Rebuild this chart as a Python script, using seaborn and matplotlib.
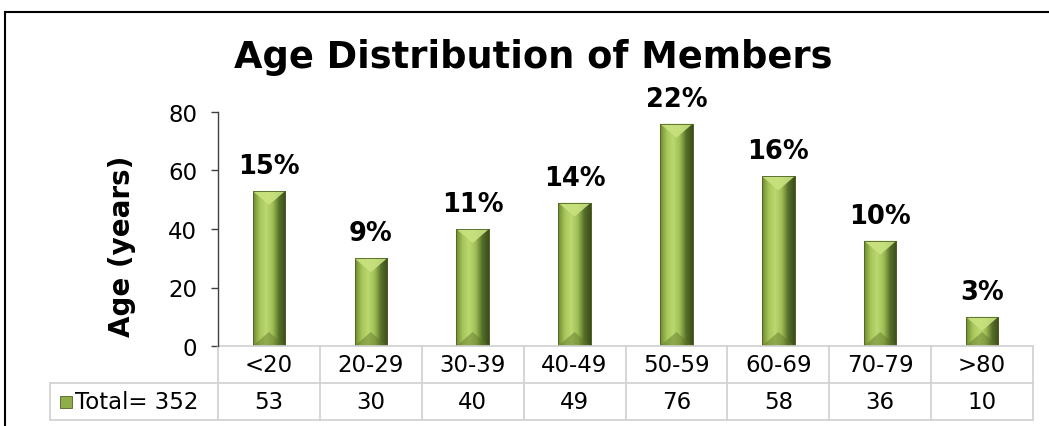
import numpy as np
import pandas as pd
import matplotlib
matplotlib.use('Agg')
import matplotlib.pyplot as plt
import seaborn as sns
from matplotlib.colors import LinearSegmentedColormap
from matplotlib.patches import Polygon, Rectangle
from matplotlib.lines import Line2D

age_groups = ['<20', '20-29', '30-39', '40-49', '50-59', '60-69', '70-79', '>80']
members = [53, 30, 40, 49, 76, 58, 36, 10]
pct_labels = ['15%', '9%', '11%', '14%', '22%', '16%', '10%', '3%']
total_label = 'Total= 352'

df = pd.DataFrame({'age_group': age_groups, 'members': members})

sns.set_theme(style='white')
plt.rcParams['font.family'] = ['DejaVu Sans']
plt.rcParams['text.color'] = 'black'
plt.rcParams['axes.labelcolor'] = 'black'

fig = plt.figure(figsize=(10.49, 4.27), dpi=100)
ax = fig.add_axes([218 / 1049, 1 - 347 / 427, (1033 - 218) / 1049, (347 - 113) / 427])

sns.barplot(data=df, x='age_group', y='members', color='#9bbb59', width=0.32,
            edgecolor='#4f6228', linewidth=0.6, ax=ax)

# bevelled green look: horizontal gradient clipped to each bar + top/bottom facets
grad = LinearSegmentedColormap.from_list(
    'bev', ['#6e8a2e', '#a6c65a', '#bcd871', '#9fbf55', '#56702a', '#3c4d1a'])
px_per_unit = (347 - 113) / 80.0
for p in ax.patches:
    x0, w, h = p.get_x(), p.get_width(), p.get_height()
    x1 = x0 + w
    xc = x0 + w / 2
    img = ax.imshow(np.linspace(0, 1, 64).reshape(1, -1), cmap=grad, aspect='auto',
                    extent=(x0, x1, 0, h), zorder=p.get_zorder() + 0.1)
    img.set_clip_path(p)
    bev = min(14 / px_per_unit, h / 2)
    ax.add_patch(Polygon([(x0, h), (x1, h), (xc, h - bev)], closed=True,
                         facecolor='#c9e27f', edgecolor='none', alpha=0.9,
                         zorder=p.get_zorder() + 0.2))
    ax.add_patch(Polygon([(x0, 0), (x1, 0), (xc, bev)], closed=True,
                         facecolor='#5d7426', edgecolor='none', alpha=0.45,
                         zorder=p.get_zorder() + 0.2))
    ax.add_patch(Rectangle((x0, 0), w, h, fill=False, edgecolor='#4f6228',
                           linewidth=0.6, zorder=p.get_zorder() + 0.3))

for i, (v, lab) in enumerate(zip(members, pct_labels)):
    ax.annotate(lab, (i, v), xytext=(0, 18), textcoords='offset points',
                ha='center', va='center', fontsize=18.5, fontweight='bold', color='black')

ax.set_xlim(-0.5, len(age_groups) - 0.5)
ax.set_ylim(0, 80)
ax.set_yticks([0, 20, 40, 60, 80])
ax.tick_params(axis='y', labelsize=16.5, length=5, width=1, direction='out', left=True,
               colors='#404040', labelcolor='black', pad=10)
ax.set_xticks([])
ax.set_xlabel('')
ax.set_ylabel('Age (years)', fontsize=20, fontweight='bold', color='black')
ax.yaxis.set_label_coords(-0.1, 0.43)
for s in ['top', 'right', 'bottom']:
    ax.spines[s].set_visible(False)
ax.spines['left'].set_color('#404040')
ax.spines['left'].set_linewidth(1)

fig.text(533 / 1049, 1 - 57 / 427, 'Age Distribution of Members', ha='center', va='center',
         fontsize=26.5, fontweight='bold', color='black')

# data table under the chart
grid_c = '#d0d0d0'
n = len(age_groups)
row_h = 37 / (347 - 113)
left_ax = -(218 - 50) / (1033 - 218)
tr = ax.transAxes
def hline(y, xa, xb):
    ax.add_line(Line2D([xa, xb], [y, y], transform=tr, color=grid_c, lw=1.2, clip_on=False))
def vline(x, ya, yb):
    ax.add_line(Line2D([x, x], [ya, yb], transform=tr, color=grid_c, lw=1.2, clip_on=False))

hline(0, 0, 1)
hline(-row_h, left_ax, 1)
hline(-2 * row_h, left_ax, 1)
vline(left_ax, -2 * row_h, -row_h)
for k in range(n + 1):
    vline(k / n, -2 * row_h, 0)
for i, (g, v) in enumerate(zip(age_groups, members)):
    ax.text((i + 0.5) / n, -0.5 * row_h, g, transform=tr, ha='center', va='center', fontsize=16.5)
    ax.text((i + 0.5) / n, -1.5 * row_h, str(v), transform=tr, ha='center', va='center', fontsize=16.5)

# legend key + total label
key_w = 12 / (1033 - 218)
key_h = 12 / (347 - 113)
kx = (60 - 218) / (1033 - 218)
ax.add_patch(Rectangle((kx, -1.5 * row_h - key_h / 2), key_w, key_h, transform=tr,
                       facecolor='#8fae4a', edgecolor='#4f6228', lw=0.6, clip_on=False))
ax.text((75 - 218) / (1033 - 218), -1.5 * row_h, total_label, transform=tr,
        ha='left', va='center', fontsize=16.5)

# outer chart frame
fig.add_artist(Rectangle((5 / 1049, -0.1), 1.2, 1 - 13 / 427 + 0.1, transform=fig.transFigure,
                         fill=False, edgecolor='black', lw=1.5))

fig.savefig('out.png', dpi=100)
